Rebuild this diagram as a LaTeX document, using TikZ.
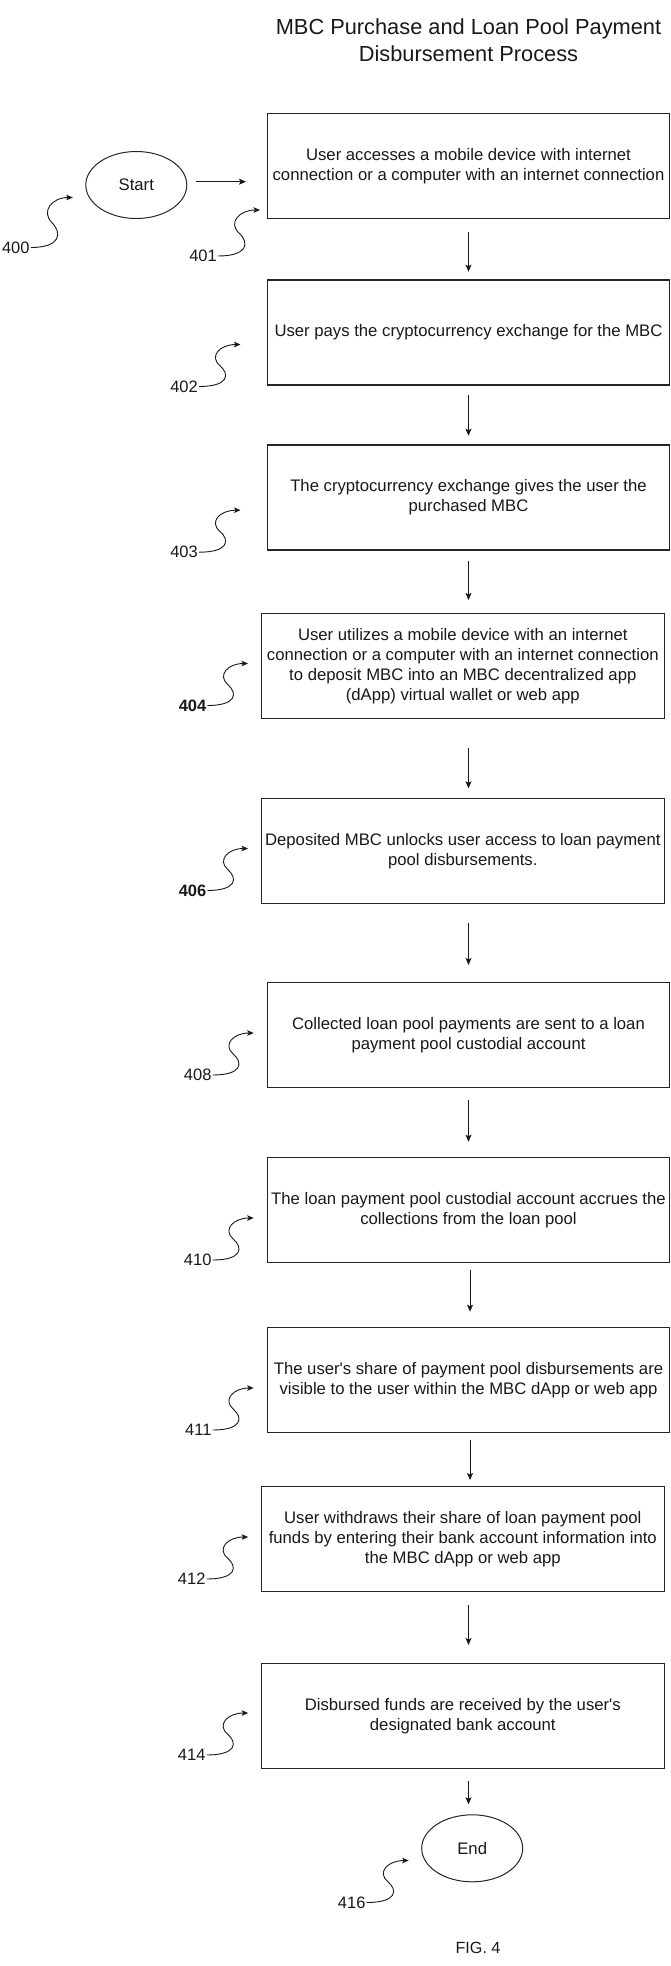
\documentclass[tikz,border=0pt]{standalone}
\usepackage{fontspec}
\setmainfont{Liberation Sans}[Ligatures=TeXOff]
\usetikzlibrary{arrows.meta,shapes.geometric}
\tikzset{
  stepbox/.style={draw=black!85,line width=1.1pt,rectangle,inner sep=0pt,
    minimum width=402pt,minimum height=105pt,align=center,
    font=\fontsize{16.7}{20}\selectfont,text=black!90},
  termnode/.style={draw=black!85,line width=1pt,ellipse,inner sep=0pt,
    minimum width=101pt,minimum height=67pt,
    font=\fontsize{16.7}{20}\selectfont,text=black!90},
  reflabel/.style={anchor=east,inner sep=1pt,font=\fontsize{16.5}{20}\selectfont,text=black!90},
  arr/.style={draw=black!90,line width=0.9pt,-{Stealth[length=7pt,width=6pt,inset=1.5pt]}},
  sq/.style={draw=black!90,line width=0.9pt,-{Stealth[length=6.5pt,width=5.5pt,inset=1.5pt]}},
}
\newcommand\squiggle[3]{%
  \draw[sq] (#1.east) .. controls +({0.7*(#2)},0) and +({0.26*(#2)},{-0.22*(#3)}) .. ++({0.5*(#2)},{0.5*(#3)})
     .. controls +({-0.26*(#2)},{0.22*(#3)}) and +({-0.5*(#2)},0) .. ++({0.5*(#2)},{0.5*(#3)});}
\begin{document}
\begin{tikzpicture}[x=1pt,y=-1pt]
\useasboundingbox[fill=white] (0,0) rectangle (671,1966);

\node[align=center,font=\fontsize{21.8}{26.7}\selectfont,text=black!90] (title) at (468.5,40)
  {MBC Purchase and Loan Pool Payment\\Disbursement Process};

\node[termnode] (start) at (136.3,185) {Start};
\node[stepbox] (b401) at (468.5,165.8) {User accesses a mobile device with internet\\connection or a computer with an internet connection};
\node[stepbox] (b402) at (468.5,332.5) {User pays the cryptocurrency exchange for the MBC};
\node[stepbox] (b403) at (468.5,497.5) {The cryptocurrency exchange gives the user the\\purchased MBC};
\node[stepbox,minimum width=403.5pt] (b404) at (462.8,665.8) {User utilizes a mobile device with an internet\\connection or a computer with an internet connection\\to deposit MBC into an MBC decentralized app\\(dApp) virtual wallet or web app};
\node[stepbox,minimum width=403.5pt] (b406) at (462.8,850.8) {Deposited MBC unlocks user access to loan payment\\pool disbursements.};
\node[stepbox] (b408) at (468.5,1035.2) {Collected loan pool payments are sent to a loan\\payment pool custodial account};
\node[stepbox] (b410) at (468.5,1209.8) {The loan payment pool custodial account accrues the\\collections from the loan pool};
\node[stepbox] (b411) at (468.5,1379.8) {The user's share of payment pool disbursements are\\visible to the user within the MBC dApp or web app};
\node[stepbox,minimum width=403.5pt] (b412) at (462.8,1539.2) {User withdraws their share of loan payment pool\\funds by entering their bank account information into\\the MBC dApp or web app};
\node[stepbox,minimum width=403.5pt] (b414) at (462.8,1715.8) {Disbursed funds are received by the user's\\designated bank account};
\node[termnode] (end) at (472.2,1848.3) {End};

\node[font=\fontsize{16.2}{20}\selectfont,text=black!90] (fig) at (478,1948.3) {FIG. 4};

% connectors (free-standing arrows between the steps)
\coordinate (a0s) at (195.5,181.7); \coordinate (a0e) at (246,181.7);
\coordinate (a1s) at (468.5,231.7); \coordinate (a1e) at (468.5,271.7);
\coordinate (a2s) at (468.5,395);   \coordinate (a2e) at (468.5,435.7);
\coordinate (a3s) at (468.5,561);   \coordinate (a3e) at (468.5,600);
\coordinate (a4s) at (468.5,748.3); \coordinate (a4e) at (468.5,788.3);
\coordinate (a5s) at (468.5,923.3); \coordinate (a5e) at (468.5,965);
\coordinate (a6s) at (468.5,1100);  \coordinate (a6e) at (468.5,1141.7);
\coordinate (a7s) at (470,1270);    \coordinate (a7e) at (470,1311.7);
\coordinate (a8s) at (470,1440);    \coordinate (a8e) at (470,1480);
\coordinate (a9s) at (468.5,1605);  \coordinate (a9e) at (468.5,1645);
\coordinate (a10s) at (468.5,1781); \coordinate (a10e) at (468.5,1804.3);
\foreach \i in {0,...,10} {\draw[arr] (a\i s) -- (a\i e);}

% reference numerals with curved leaders
\node[reflabel] (l400) at (30.8,247.5) {400};
\node[reflabel] (l401) at (218,256) {401};
\node[reflabel] (l402) at (199,386.5) {402};
\node[reflabel] (l403) at (199,552.2) {403};
\node[reflabel,font=\fontsize{16.5}{20}\selectfont\bfseries] (l404) at (207.5,705.5) {404};
\node[reflabel,font=\fontsize{16.5}{20}\selectfont\bfseries] (l406) at (207.5,890.5) {406};
\node[reflabel] (l408) at (212.7,1075) {408};
\node[reflabel] (l410) at (212.7,1260) {410};
\node[reflabel] (l411) at (212.7,1430) {411};
\node[reflabel] (l412) at (206.7,1579) {412};
\node[reflabel] (l414) at (206.7,1755) {414};
\node[reflabel] (l416) at (366.7,1902.5) {416};

\squiggle{l400}{42}{-50}
\squiggle{l401}{42}{-46}
\squiggle{l402}{41.5}{-42}
\squiggle{l403}{41.5}{-42}
\squiggle{l404}{40.5}{-42}
\squiggle{l406}{40.5}{-42}
\squiggle{l408}{41}{-42}
\squiggle{l410}{41}{-42}
\squiggle{l411}{41}{-42}
\squiggle{l412}{41.5}{-42}
\squiggle{l414}{41.5}{-42}
\squiggle{l416}{42}{-42}
\end{tikzpicture}
\end{document}
